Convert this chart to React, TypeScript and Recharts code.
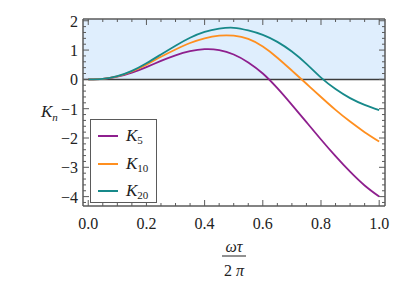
import {
  Line,
  LineChart,
  ReferenceArea,
  ReferenceLine,
  XAxis,
  YAxis,
} from 'recharts'

// omega*tau / (2 pi)
const xs = [0, 0.05, 0.1, 0.15, 0.2, 0.25, 0.3, 0.35, 0.4, 0.45, 0.5, 0.55, 0.6, 0.65, 0.7, 0.75, 0.8, 0.85, 0.9, 0.95, 1.0]
const k5 = [0, 0.015, 0.09, 0.23, 0.42, 0.63, 0.82, 0.96, 1.03, 1.0, 0.85, 0.58, 0.2, -0.3, -0.87, -1.46, -2.05, -2.62, -3.15, -3.62, -4.0]
const k10 = [0, 0.015, 0.1, 0.27, 0.5, 0.77, 1.02, 1.24, 1.4, 1.49, 1.49, 1.38, 1.12, 0.74, 0.3, -0.15, -0.6, -1.04, -1.44, -1.8, -2.12]
const k20 = [0, 0.015, 0.11, 0.29, 0.55, 0.85, 1.15, 1.42, 1.62, 1.73, 1.76, 1.67, 1.52, 1.28, 0.95, 0.53, 0.06, -0.33, -0.64, -0.87, -1.05]

const xMajor = [0, 0.2, 0.4, 0.6, 0.8, 1.0]
const yMajor = [-4, -3, -2, -1, 0, 1, 2]

const series = [
  { key: 'k5', sub: '5', color: '#8e1f8e' },
  { key: 'k10', sub: '10', color: '#ff8f1f' },
  { key: 'k20', sub: '20', color: '#17898a' },
]

const data = xs.map((x, i) => ({ x, k5: k5[i], k10: k10[i], k20: k20[i] }))

const X_DOMAIN: [number, number] = [-0.018, 1.02]
const Y_DOMAIN: [number, number] = [-4.32, 2.06]

// plot box inside the svg
const PLOT = { left: 75, top: 11, right: 377, bottom: 198 }

const range = (lo: number, hi: number, step: number) => {
  const out: number[] = []
  for (let i = Math.ceil(lo / step - 1e-9); i * step <= hi + 1e-9; i++) out.push(Number((i * step).toFixed(4)))
  return out
}
const xTicks = range(0, 1.0, 0.05)
const yTicks = range(-4.2, 2.0, 0.2)

const isMajor = (v: number, majors: number[]) => majors.some((m) => Math.abs(m - v) < 1e-6)
const fmt = (v: number, digits: number) => (v < 0 ? '\u2212' : '') + Math.abs(v).toFixed(digits)

const FONT = '"Liberation Serif", "DejaVu Serif", serif'
const FRAME = '#5a5a5a'

function XTick({ x, y, payload }: any) {
  const major = isMajor(payload.value, xMajor)
  const len = major ? 6 : 3
  return (
    <g>
      <g stroke={FRAME} strokeWidth={1}>
        <line x1={x} y1={y} x2={x} y2={y - len} />
        <line x1={x} y1={PLOT.top} x2={x} y2={PLOT.top + len} />
      </g>
      {major && (
        <text x={x} y={y + 23} textAnchor="middle" fontFamily={FONT} fontSize={16} fill="#222">
          {fmt(payload.value, 1)}
        </text>
      )}
    </g>
  )
}

function YTick({ x, y, payload }: any) {
  const major = isMajor(payload.value, yMajor)
  const len = major ? 6 : 3
  return (
    <g>
      <g stroke={FRAME} strokeWidth={1}>
        <line x1={x} y1={y} x2={x + len} y2={y} />
        <line x1={PLOT.right} y1={y} x2={PLOT.right - len} y2={y} />
      </g>
      {major && (
        <text x={x - 5} y={y + 6} textAnchor="end" fontFamily={FONT} fontSize={16} fill="#222">
          {fmt(payload.value, 0)}
        </text>
      )}
    </g>
  )
}

function XLabel({ viewBox }: any) {
  const cx = viewBox.x + viewBox.width / 2
  const top = viewBox.y
  return (
    <g fontFamily={FONT} fontSize={16} fill="#222">
      <text x={cx} y={top + 46} textAnchor="middle" fontStyle="italic">ωτ</text>
      <line x1={cx - 12} x2={cx + 12} y1={top + 50} y2={top + 50} stroke="#222" strokeWidth={1} />
      <text x={cx} y={top + 70} textAnchor="middle">
        2 <tspan fontStyle="italic">π</tspan>
      </text>
    </g>
  )
}

function LegendBox() {
  return (
    <div
      style={{
        position: 'absolute',
        left: 82,
        top: 111,
        width: 65,
        height: 82,
        border: `1px solid ${FRAME}`,
        background: '#fff',
        fontFamily: FONT,
        fontSize: 17,
        color: '#222',
      }}
    >
      {series.map((s, i) => (
        <div
          key={s.key}
          style={{ position: 'absolute', left: 7, top: 4 + i * 27.5, height: 24, display: 'flex', alignItems: 'center', whiteSpace: 'nowrap' }}
        >
          <span style={{ display: 'inline-block', width: 20, height: 2, background: s.color }} />
          <span style={{ marginLeft: 8, fontStyle: 'italic' }}>K</span>
          <span style={{ fontSize: 11, position: 'relative', top: 4 }}>{s.sub}</span>
        </div>
      ))}
    </div>
  )
}

export default function App() {
  return (
    <div style={{ position: 'relative', width: 397, height: 273 }}>
      <LineChart width={397} height={273} data={data} margin={{ top: PLOT.top, right: 397 - PLOT.right, bottom: 0, left: 0 }}>
        <ReferenceArea y1={0} y2={Y_DOMAIN[1]} fill="#dfeefd" fillOpacity={1} stroke="none" ifOverflow="hidden" />
        <XAxis
          dataKey="x"
          type="number"
          domain={X_DOMAIN}
          allowDataOverflow
          ticks={xTicks}
          interval={0}
          tickSize={0}
          tickMargin={0}
          tickLine={false}
          height={273 - PLOT.bottom}
          stroke={FRAME}
          strokeWidth={1.5}
          tick={(p: any) => <XTick {...p} />}
          label={<XLabel />}
        />
        <YAxis
          type="number"
          domain={Y_DOMAIN}
          allowDataOverflow
          ticks={yTicks}
          interval={0}
          tickSize={0}
          tickMargin={0}
          tickLine={false}
          width={PLOT.left}
          stroke={FRAME}
          strokeWidth={1.5}
          tick={(p: any) => <YTick {...p} />}
        />
        <ReferenceLine y={0} stroke="#3c3c3c" strokeWidth={1.5} />
        <ReferenceLine y={Y_DOMAIN[1]} stroke={FRAME} strokeWidth={1.5} ifOverflow="extendDomain" />
        <ReferenceLine x={X_DOMAIN[1]} stroke={FRAME} strokeWidth={1.5} ifOverflow="extendDomain" />
        {series.map((s) => (
          <Line
            key={s.key}
            type="natural"
            dataKey={s.key}
            stroke={s.color}
            strokeWidth={1.8}
            dot={false}
            isAnimationActive={false}
          />
        ))}
      </LineChart>
      <LegendBox />
      <div
        style={{
          position: 'absolute',
          left: 33,
          top: 94,
          fontFamily: FONT,
          fontSize: 17,
          fontStyle: 'italic',
          color: '#222',
          lineHeight: '20px',
        }}
      >
        K<span style={{ fontSize: 11, position: 'relative', top: 4 }}>n</span>
      </div>
    </div>
  )
}
